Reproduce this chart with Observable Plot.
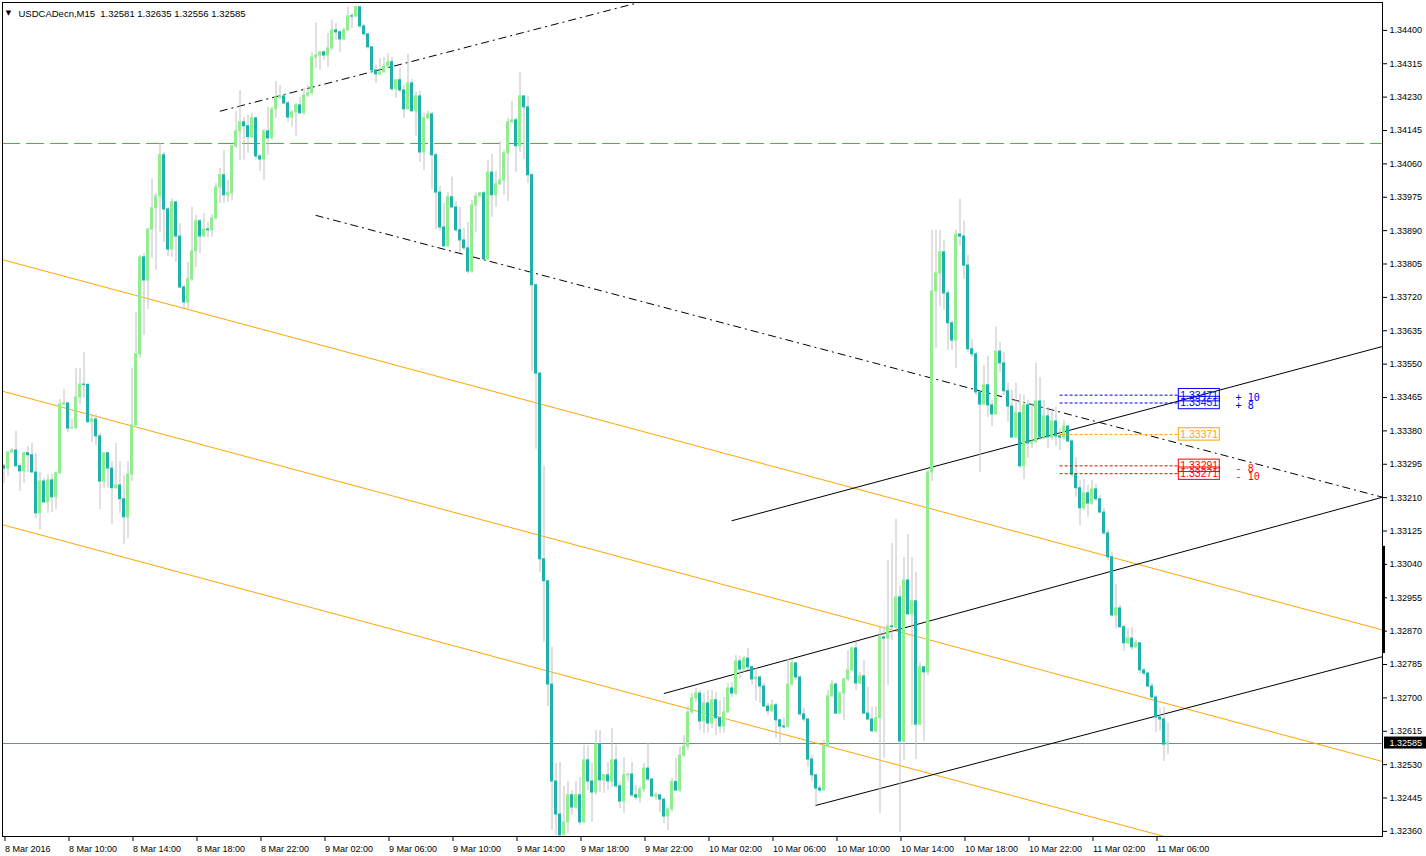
<!DOCTYPE html>
<html><head><meta charset="utf-8">
<script src="https://cdn.jsdelivr.net/npm/d3@7"></script>
<script src="https://cdn.jsdelivr.net/npm/@observablehq/plot@0.6"></script>
<style>html,body{margin:0;padding:0;background:#fff;}#chart svg{display:block;}</style>
</head><body><div id="chart"></div>
<script>
const symbol = "USDCADecn,M15";
const lastOHLC = [1.32581, 1.32635, 1.32556, 1.32585];
const firstOpen = 1.33290;
// 15-minute bars from 8 Mar 2016 06:00 (bar 0) to 11 Mar 06:45 (bar 291)
const closes = [
1.33284,1.33325,1.33330,1.33290,1.33277,1.33323,1.33318,1.33274,1.33170,1.33251,
1.33198,1.33254,1.33211,1.33272,1.33447,1.33450,1.33386,1.33387,1.33465,1.33498,
1.33497,1.33402,1.33409,1.33366,1.33251,1.33323,1.33284,1.33234,1.33241,1.33206,
1.33160,1.33269,1.33394,1.33575,1.33822,1.33763,1.33893,1.33947,1.33977,1.34082,
1.33944,1.33842,1.33962,1.33875,1.33745,1.33707,1.33766,1.33837,1.33914,1.33875,
1.33893,1.33891,1.33921,1.34000,1.34031,1.33980,1.33985,1.34105,1.34143,1.34166,
1.34156,1.34128,1.34176,1.34079,1.34071,1.34143,1.34125,1.34199,1.34229,1.34232,
1.34214,1.34178,1.34191,1.34209,1.34189,1.34234,1.34240,1.34331,1.34336,1.34344,
1.34336,1.34354,1.34400,1.34395,1.34377,1.34400,1.34436,1.34435,1.34459,1.34410,
1.34390,1.34357,1.34298,1.34288,1.34293,1.34308,1.34319,1.34250,1.34273,1.34247,
1.34199,1.34265,1.34194,1.34232,1.34089,1.34176,1.34186,1.34082,1.33987,1.33898,
1.33850,1.33975,1.33949,1.33891,1.33865,1.33845,1.33786,1.33954,1.33977,1.33985,
1.33817,1.34038,1.33980,1.34008,1.34018,1.34087,1.34166,1.34171,1.34105,1.34232,
1.34204,1.34031,1.33751,1.33526,1.33053,1.32997,1.32734,1.32487,1.32403,1.32350,
1.32383,1.32452,1.32421,1.32452,1.32383,1.32541,1.32487,1.32459,1.32581,1.32490,
1.32503,1.32487,1.32541,1.32475,1.32436,1.32503,1.32505,1.32452,1.32446,1.32467,
1.32520,1.32492,1.32449,1.32452,1.32441,1.32398,1.32416,1.32486,1.32464,1.32553,
1.32576,1.32663,1.32699,1.32711,1.32640,1.32686,1.32635,1.32694,1.32648,1.32627,
1.32663,1.32724,1.32711,1.32793,1.32772,1.32800,1.32778,1.32747,1.32752,1.32729,
1.32678,1.32666,1.32681,1.32643,1.32627,1.32625,1.32734,1.32788,1.32752,1.32658,
1.32645,1.32543,1.32503,1.32469,1.32464,1.32576,1.32704,1.32734,1.32660,1.32711,
1.32747,1.32770,1.32826,1.32737,1.32755,1.32660,1.32645,1.32615,1.32648,1.32854,
1.32851,1.32882,1.32880,1.32956,1.32589,1.32999,1.32913,1.32946,1.32632,1.32778,
1.32765,1.33274,1.33735,1.33781,1.33835,1.33730,1.33654,1.33610,1.33880,1.33875,
1.33801,1.33588,1.33575,1.33478,1.33447,1.33496,1.33445,1.33422,1.33582,1.33552,
1.33481,1.33442,1.33363,1.33425,1.33290,1.33445,1.33348,1.33351,1.33455,1.33363,
1.33417,1.33363,1.33404,1.33366,1.33363,1.33391,1.33353,1.33269,1.33234,1.33183,
1.33221,1.33195,1.33231,1.33206,1.33172,1.33119,1.33058,1.32910,1.32928,1.32880,
1.32839,1.32851,1.32829,1.32839,1.32770,1.32762,1.32729,1.32701,1.32650,1.32645,
1.32581,1.32585];
const highs = [
1.33295,1.33327,1.33335,1.33379,1.33297,1.33325,1.33340,1.33348,1.33323,1.33274,
1.33259,1.33269,1.33269,1.33274,1.33460,1.33486,1.33453,1.33409,1.33539,1.33539,
1.33580,1.33501,1.33422,1.33422,1.33374,1.33325,1.33325,1.33302,1.33348,1.33302,
1.33267,1.33302,1.33539,1.33682,1.33827,1.33832,1.33896,1.34021,1.33985,1.34112,
1.34089,1.33949,1.33970,1.33964,1.33908,1.33751,1.33809,1.33949,1.33929,1.33919,
1.33934,1.33911,1.33931,1.34010,1.34049,1.34094,1.34018,1.34107,1.34194,1.34247,
1.34178,1.34184,1.34189,1.34178,1.34084,1.34148,1.34204,1.34204,1.34270,1.34260,
1.34237,1.34219,1.34196,1.34214,1.34229,1.34252,1.34260,1.34344,1.34418,1.34347,
1.34348,1.34392,1.34426,1.34418,1.34400,1.34405,1.34459,1.34443,1.34461,1.34461,
1.34415,1.34392,1.34357,1.34311,1.34329,1.34331,1.34341,1.34331,1.34275,1.34303,
1.34260,1.34339,1.34275,1.34242,1.34245,1.34189,1.34194,1.34191,1.34087,1.34003,
1.33959,1.33987,1.34026,1.33964,1.33949,1.33896,1.33911,1.33967,1.33985,1.33987,
1.33990,1.34069,1.34084,1.34041,1.34117,1.34094,1.34176,1.34219,1.34176,1.34293,
1.34232,1.34232,1.34036,1.33751,1.33529,1.33290,1.32999,1.32829,1.32533,1.32536,
1.32475,1.32486,1.32464,1.32486,1.32497,1.32579,1.32579,1.32533,1.32617,1.32617,
1.32505,1.32536,1.32622,1.32579,1.32486,1.32548,1.32508,1.32536,1.32477,1.32475,
1.32533,1.32584,1.32495,1.32459,1.32452,1.32441,1.32418,1.32495,1.32546,1.32574,
1.32604,1.32678,1.32711,1.32724,1.32719,1.32711,1.32719,1.32719,1.32714,1.32694,
1.32701,1.32737,1.32739,1.32808,1.32806,1.32806,1.32826,1.32783,1.32775,1.32755,
1.32737,1.32686,1.32694,1.32686,1.32645,1.32648,1.32798,1.32798,1.32790,1.32755,
1.32673,1.32648,1.32553,1.32503,1.32477,1.32592,1.32719,1.32744,1.32739,1.32716,
1.32750,1.32821,1.32829,1.32841,1.32765,1.32795,1.32727,1.32676,1.32676,1.32880,
1.32880,1.33050,1.33093,1.33155,1.32985,1.33058,1.33116,1.33058,1.33020,1.32790,
1.32780,1.33279,1.33891,1.33891,1.33891,1.33865,1.33738,1.33661,1.33891,1.33970,
1.33914,1.33827,1.33613,1.33580,1.33483,1.33547,1.33570,1.33458,1.33644,1.33605,
1.33580,1.33501,1.33483,1.33501,1.33473,1.33470,1.33458,1.33450,1.33552,1.33516,
1.33458,1.33440,1.33437,1.33440,1.33386,1.33407,1.33394,1.33356,1.33312,1.33254,
1.33256,1.33241,1.33254,1.33244,1.33216,1.33183,1.33127,1.33071,1.32989,1.32936,
1.32885,1.32877,1.32880,1.32846,1.32841,1.32775,1.32765,1.32737,1.32706,1.32673,
1.32676,1.32635];
const lows = [
1.33246,1.33264,1.33323,1.33287,1.33226,1.33246,1.33274,1.33272,1.33157,1.33127,
1.33195,1.33170,1.33172,1.33180,1.33269,1.33445,1.33376,1.33384,1.33384,1.33447,
1.33465,1.33399,1.33351,1.33343,1.33180,1.33234,1.33234,1.33142,1.33231,1.33170,
1.33091,1.33106,1.33251,1.33391,1.33565,1.33623,1.33689,1.33819,1.33789,1.33886,
1.33860,1.33824,1.33822,1.33809,1.33743,1.33692,1.33687,1.33761,1.33796,1.33832,
1.33873,1.33873,1.33873,1.33916,1.33959,1.33959,1.33962,1.33967,1.34099,1.34069,
1.34069,1.34087,1.34125,1.34069,1.34041,1.34018,1.34082,1.34120,1.34176,1.34224,
1.34212,1.34166,1.34153,1.34130,1.34186,1.34184,1.34229,1.34234,1.34303,1.34298,
1.34324,1.34306,1.34349,1.34375,1.34344,1.34375,1.34397,1.34405,1.34433,1.34405,
1.34385,1.34352,1.34293,1.34265,1.34285,1.34291,1.34303,1.34245,1.34227,1.34242,
1.34176,1.34196,1.34191,1.34130,1.34064,1.34043,1.34173,1.33995,1.33893,1.33888,
1.33847,1.33847,1.33947,1.33886,1.33832,1.33840,1.33779,1.33781,1.33886,1.33975,
1.33814,1.33814,1.33924,1.33949,1.34005,1.33980,1.33964,1.34163,1.34038,1.34089,
1.34071,1.34010,1.33531,1.33333,1.33020,1.32841,1.32678,1.32362,1.32350,1.32347,
1.32350,1.32355,1.32401,1.32416,1.32375,1.32380,1.32464,1.32383,1.32452,1.32459,
1.32457,1.32464,1.32472,1.32469,1.32418,1.32406,1.32486,1.32446,1.32439,1.32431,
1.32459,1.32486,1.32446,1.32439,1.32408,1.32380,1.32362,1.32408,1.32462,1.32459,
1.32548,1.32566,1.32658,1.32688,1.32617,1.32610,1.32610,1.32622,1.32604,1.32610,
1.32610,1.32660,1.32701,1.32706,1.32750,1.32765,1.32770,1.32732,1.32691,1.32686,
1.32676,1.32655,1.32663,1.32597,1.32579,1.32622,1.32625,1.32729,1.32744,1.32653,
1.32638,1.32523,1.32486,1.32426,1.32457,1.32462,1.32574,1.32701,1.32658,1.32658,
1.32642,1.32742,1.32767,1.32719,1.32734,1.32658,1.32643,1.32612,1.32610,1.32406,
1.32546,1.32732,1.32846,1.32872,1.32357,1.32541,1.32910,1.32630,1.32543,1.32630,
1.32589,1.32757,1.33251,1.33590,1.33697,1.33687,1.33585,1.33585,1.33539,1.33852,
1.33766,1.33580,1.33567,1.33470,1.33274,1.33445,1.33414,1.33391,1.33419,1.33529,
1.33470,1.33402,1.33361,1.33361,1.33284,1.33256,1.33310,1.33335,1.33348,1.33356,
1.33356,1.33335,1.33356,1.33340,1.33330,1.33356,1.33351,1.33262,1.33211,1.33139,
1.33177,1.33160,1.33190,1.33200,1.33170,1.33114,1.33050,1.32905,1.32877,1.32877,
1.32818,1.32836,1.32821,1.32826,1.32760,1.32755,1.32727,1.32699,1.32612,1.32615,
1.32538,1.32556];

const xTickBars = [0,16,32,48,64,80,96,112,128,144,160,176,192,208,224,240,256,272,288];
const xTickLabels = ["8 Mar 2016","8 Mar 10:00","8 Mar 14:00","8 Mar 18:00","8 Mar 22:00",
 "9 Mar 02:00","9 Mar 06:00","9 Mar 10:00","9 Mar 14:00","9 Mar 18:00","9 Mar 22:00",
 "10 Mar 02:00","10 Mar 06:00","10 Mar 10:00","10 Mar 14:00","10 Mar 18:00","10 Mar 22:00",
 "11 Mar 02:00","11 Mar 06:00"];
const yTicks = [1.34400,1.34315,1.34230,1.34145,1.34060,1.33975,1.33890,1.33805,1.33720,1.33635,
 1.33550,1.33465,1.33380,1.33295,1.33210,1.33125,1.33040,1.32955,1.32870,1.32785,1.32700,
 1.32615,1.32530,1.32445,1.32360];

// horizontal levels
const resistanceLevel = 1.34112;
const bidPrice = 1.32585;
// trend lines: bar index / price anchor pairs
const orangeLines = [
 {t1:-0.375, p1:1.33816, t2:344.625, p2:1.32873},
 {t1:-0.375, p1:1.33481, t2:344.625, p2:1.32538},
 {t1:-0.375, p1:1.33141, t2:344.625, p2:1.32198}];
const solidLines = [
 {t1:181.9, p1:1.33151, t2:344.625, p2:1.33595},
 {t1:164.95, p1:1.32711, t2:344.625, p2:1.33211},
 {t1:202.9, p1:1.32426, t2:344.625, p2:1.32805}];
const dashDotLines = [
 {t1:53.95, p1:1.34194, t2:200, p2:1.34580},
 {t1:77.9, p1:1.33929, t2:344.625, p2:1.33211}];
// order levels
const orderPrices = [1.33471, 1.33451, 1.33371, 1.33291, 1.33271];
const orderKinds = ["tp","tp","entry","sl","sl"];
const orderPips = ["+ 10","+ 8","","- 8","- 10"];
const scaleMarker = [1.32813, 1.33086];

const bars = closes.map((c, i) => ({
  i, open: i ? closes[i-1] : firstOpen, close: c, high: highs[i], low: lows[i]
}));
const kindColor = {tp:"#0000ff", entry:"#ffa500", sl:"#ff0000"};
const labelMap = new Map(xTickBars.map((b, i) => [b, xTickLabels[i]]));
const pxP = 0.00002547; // price per pixel
const boxHalf = 6.2 * pxP;

const marks = [
  Plot.ruleY([resistanceLevel], {stroke:"#3cb43c", strokeDasharray:"18,6"}),
  Plot.ruleY([bidPrice], {stroke:"#778899", shapeRendering:"crispEdges"}),
  Plot.link(orangeLines, {x1:"t1", y1:"p1", x2:"t2", y2:"p2", stroke:"#ffa500", clip:true}),
  Plot.link(solidLines, {x1:"t1", y1:"p1", x2:"t2", y2:"p2", stroke:"#000", clip:true}),
  Plot.link(dashDotLines, {x1:"t1", y1:"p1", x2:"t2", y2:"p2", stroke:"#000", strokeDasharray:"8,4,2,4", clip:true}),
  Plot.ruleX(bars, {x:"i", y1:d=>Math.min(d.low,d.open,d.close), y2:d=>Math.max(d.high,d.open,d.close), stroke:"#c0c0c0"}),
  Plot.rect(bars, {x1:d=>d.i-0.375, x2:d=>d.i+0.375,
    y1:d=>Math.min(d.open,d.close), y2:d=>Math.max(d.open,d.close),
    fill:d=>d.close>=d.open ? "#90ee90" : "#20b2aa", insetTop:-0.5, insetBottom:-0.5})
];
orderPrices.forEach((p, k) => {
  const col = kindColor[orderKinds[k]];
  marks.push(Plot.link([p], {x1:()=>263.9, x2:()=>293.6, y1:d=>d, y2:d=>d, stroke:col, strokeDasharray:"3,2"}));
  marks.push(Plot.rect([p], {x1:()=>293.7, x2:()=>303.95, y1:d=>d-boxHalf, y2:d=>d+boxHalf, fill:"none", stroke:col}));
  marks.push(Plot.text([p], {x:()=>298.8, y:d=>d, text:d=>d.toFixed(5), fill:col, fontSize:10.5, fontFamily:"Liberation Sans"}));
  if (orderPips[k]) marks.push(Plot.text([p], {x:()=>307.9, y:d=>d, dy:3, text:()=>orderPips[k], fill:col, textAnchor:"start", fontSize:10, fontFamily:"DejaVu Sans Mono"}));
});
marks.push(
  Plot.frame({stroke:"#000", shapeRendering:"crispEdges"}),
  Plot.axisY(yTicks, {anchor:"right", tickSize:4, tickPadding:3, tickFormat:d=>d.toFixed(5), label:null}),
  Plot.axisX(xTickBars, {anchor:"bottom", tickSize:5, tickPadding:4, tickFormat:d=>labelMap.get(d), textAnchor:"start", dx:1, label:null}),
  Plot.ruleX([344.625], {y1:()=>scaleMarker[0], y2:()=>scaleMarker[1], stroke:"#000", strokeWidth:3, dx:1}),
  Plot.rect([bidPrice], {x1:()=>345.125, x2:()=>355.625, y1:d=>d-6*pxP, y2:d=>d+6*pxP, fill:"#000"}),
  Plot.text([bidPrice], {x:()=>346.375, y:d=>d, text:d=>d.toFixed(5), fill:"#fff", textAnchor:"start"}),
  Plot.text(["\u25BC"], {frameAnchor:"top-left", dx:6, dy:8, fontSize:7, fontFamily:"DejaVu Sans", textAnchor:"middle"}),
  Plot.text([symbol + "  " + lastOHLC.map(v=>v.toFixed(5)).join(" ")], {frameAnchor:"top-left", dx:16, dy:8, textAnchor:"start", fontSize:9.5})
);

const chart = Plot.plot({
  width:1426, height:856,
  marginLeft:2, marginRight:44, marginTop:2, marginBottom:20,
  x:{domain:[-0.375, 344.625]},
  y:{domain:[1.32347, 1.34471]},
  style:{fontFamily:"Liberation Sans, Arial, sans-serif", fontSize:"9px", background:"#fff", color:"#000"},
  marks
});
document.getElementById("chart").appendChild(chart);
</script>
</body></html>
